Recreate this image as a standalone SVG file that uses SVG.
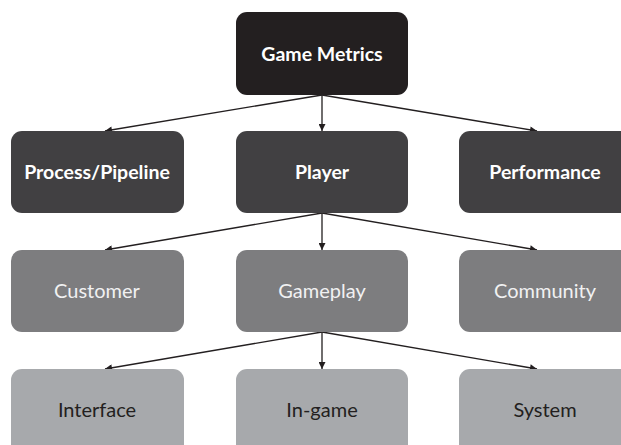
<svg xmlns="http://www.w3.org/2000/svg" width="621" height="445" viewBox="0 0 621 445">
  <defs>
    <marker id="head" viewBox="0 0 10 10" refX="10" refY="5" markerWidth="8" markerHeight="7" markerUnits="userSpaceOnUse" orient="auto">
      <path d="M0,0 L10,5 L0,10 z" fill="#231f20"/>
    </marker>
    <style>
      .box { stroke: none; }
      .l0 { fill: #231f20; }
      .l1 { fill: #414042; }
      .l2 { fill: #7d7d7f; }
      .l3 { fill: #a7a9ac; }
      .lbl { font-family: Lato, "Open Sans", "Liberation Sans", sans-serif; font-size: 20px; text-anchor: middle; }
      .light { fill: #ffffff; font-weight: bold; font-size: 19.5px; }
      .soft { fill: #f1f1f2; }
      .dark { fill: #231f20; }
      .edge { stroke: #231f20; stroke-width: 1.3; fill: none; marker-end: url(#head); }
    </style>
  </defs>
  <rect width="621" height="445" fill="#ffffff"/>

  <g id="connectors">
    <line class="edge" x1="322" y1="95" x2="105" y2="131"/>
    <line class="edge" x1="322" y1="95" x2="322" y2="131"/>
    <line class="edge" x1="322" y1="95" x2="537" y2="131"/>
    <line class="edge" x1="322" y1="213" x2="105" y2="250"/>
    <line class="edge" x1="322" y1="213" x2="322" y2="250"/>
    <line class="edge" x1="322" y1="213" x2="537" y2="250"/>
    <line class="edge" x1="322" y1="332" x2="105" y2="369"/>
    <line class="edge" x1="322" y1="332" x2="322" y2="369"/>
    <line class="edge" x1="322" y1="332" x2="537" y2="369"/>
  </g>

  <g id="game-metrics">
    <rect class="box l0" x="236" y="12" width="172" height="83" rx="11"/>
    <text class="lbl light" x="322" y="61">Game Metrics</text>
  </g>

  <g id="process-pipeline">
    <rect class="box l1" x="11" y="131" width="173" height="82" rx="11"/>
    <text class="lbl light" x="97" y="179">Process/Pipeline</text>
  </g>
  <g id="player">
    <rect class="box l1" x="236" y="131" width="172" height="82" rx="11"/>
    <text class="lbl light" x="322" y="179">Player</text>
  </g>
  <g id="performance">
    <rect class="box l1" x="459" y="131" width="174" height="82" rx="11"/>
    <text class="lbl light" x="545" y="179">Performance</text>
  </g>

  <g id="customer">
    <rect class="box l2" x="11" y="250" width="173" height="82" rx="11"/>
    <text class="lbl soft" x="97" y="298">Customer</text>
  </g>
  <g id="gameplay">
    <rect class="box l2" x="236" y="250" width="172" height="82" rx="11"/>
    <text class="lbl soft" x="322" y="298">Gameplay</text>
  </g>
  <g id="community">
    <rect class="box l2" x="459" y="250" width="174" height="82" rx="11"/>
    <text class="lbl soft" x="545" y="298">Community</text>
  </g>

  <g id="interface">
    <rect class="box l3" x="11" y="369" width="173" height="90" rx="11"/>
    <text class="lbl dark" x="97" y="417">Interface</text>
  </g>
  <g id="in-game">
    <rect class="box l3" x="236" y="369" width="172" height="90" rx="11"/>
    <text class="lbl dark" x="322" y="417">In-game</text>
  </g>
  <g id="system">
    <rect class="box l3" x="459" y="369" width="174" height="90" rx="11"/>
    <text class="lbl dark" x="545" y="417">System</text>
  </g>
</svg>
